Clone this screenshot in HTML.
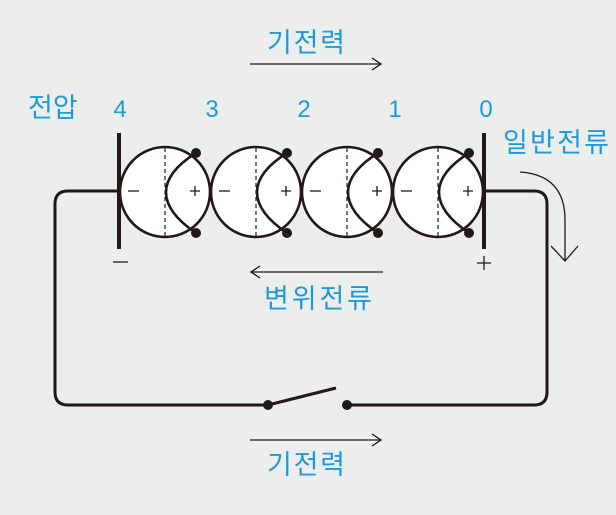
<!DOCTYPE html>
<html><head><meta charset="utf-8"><style>
body{margin:0;background:#eceeed;}
svg{display:block}
text{font-family:"Liberation Sans","Noto Sans CJK KR",sans-serif;fill:#1d9ad8}
</style></head><body>
<svg width="616" height="515" viewBox="0 0 616 515" xmlns="http://www.w3.org/2000/svg">
<g font-size="27">
<text x="267" y="52" textLength="78">기전력</text>
<text x="264" y="308" textLength="108">변위전류</text>
<text x="267" y="474" textLength="78">기전력</text>
<text x="28" y="117">전압</text>
<text x="503" y="152" textLength="106">일반전류</text>
</g>
<g font-size="24" text-anchor="middle">
<text x="120" y="117">4</text><text x="212" y="117">3</text><text x="304" y="117">2</text><text x="395" y="117">1</text><text x="486" y="117">0</text>
</g>
<g stroke="#231815" stroke-width="1.3" fill="none">
<line x1="250" y1="64" x2="380" y2="64"/><path d="M372 58 L381 64 L372 70"/>
<line x1="252" y1="272" x2="383" y2="272"/><path d="M260 266 L251 272 L260 278"/>
<line x1="250" y1="440" x2="380" y2="440"/><path d="M372 434 L381 440 L372 446"/>
<path d="M520 172 Q565 175 565 220 L565 260"/><path d="M551 246 L565 261 L578 246"/>
</g>
<g stroke="#231815" stroke-width="3" fill="none">
<path d="M119 191 H68 Q55 191 55 204 V392 Q55 405 68 405 H268"/>
<line x1="268" y1="405" x2="336" y2="388"/>
<path d="M347 405 H534 Q547 405 547 392 V204 Q547 191 534 191 H484"/>
</g>
<g stroke="#231815" stroke-width="2.6">
<circle cx="165" cy="192" r="45" fill="#fff"/>
<circle cx="256" cy="192" r="45" fill="#fff"/>
<circle cx="347" cy="192" r="45" fill="#fff"/>
<circle cx="438" cy="192" r="45" fill="#fff"/>
</g>
<g stroke="#231815" stroke-width="1.2" stroke-dasharray="4,3">
<line x1="165" y1="148" x2="165" y2="236"/><line x1="256" y1="148" x2="256" y2="236"/>
<line x1="347" y1="148" x2="347" y2="236"/><line x1="438" y1="148" x2="438" y2="236"/>
</g>
<g stroke="#231815" stroke-width="2.6" fill="none">
<path d="M196 153 C156 178 156 206 196 233"/>
<path d="M287 153 C247 178 247 206 287 233"/>
<path d="M378 153 C338 178 338 206 378 233"/>
<path d="M469 153 C429 178 429 206 469 233"/>
</g>
<g fill="#231815">
<circle cx="196" cy="153" r="5"/><circle cx="196" cy="233" r="5"/>
<circle cx="287" cy="153" r="5"/><circle cx="287" cy="233" r="5"/>
<circle cx="378" cy="153" r="5"/><circle cx="378" cy="233" r="5"/>
<circle cx="469" cy="153" r="5"/><circle cx="469" cy="233" r="5"/>
<circle cx="268" cy="405" r="5"/><circle cx="347" cy="405" r="5"/>
</g>
<g stroke="#231815" stroke-width="4">
<line x1="119" y1="133" x2="119" y2="249"/>
<line x1="484" y1="133" x2="484" y2="249"/>
</g>
<g stroke="#231815" stroke-width="1.3">
<line x1="128" y1="191" x2="139" y2="191"/><line x1="219" y1="191" x2="230" y2="191"/>
<line x1="310" y1="191" x2="321" y2="191"/><line x1="401" y1="191" x2="412" y2="191"/>
<path d="M190 191h10M195 186v10M281 191h10M286 186v10M372 191h10M377 186v10M463 191h10M468 186v10"/>
<line x1="113" y1="262" x2="128" y2="262"/>
<path d="M477 263h14M484 256v14"/>
</g>
</svg>
</body></html>
